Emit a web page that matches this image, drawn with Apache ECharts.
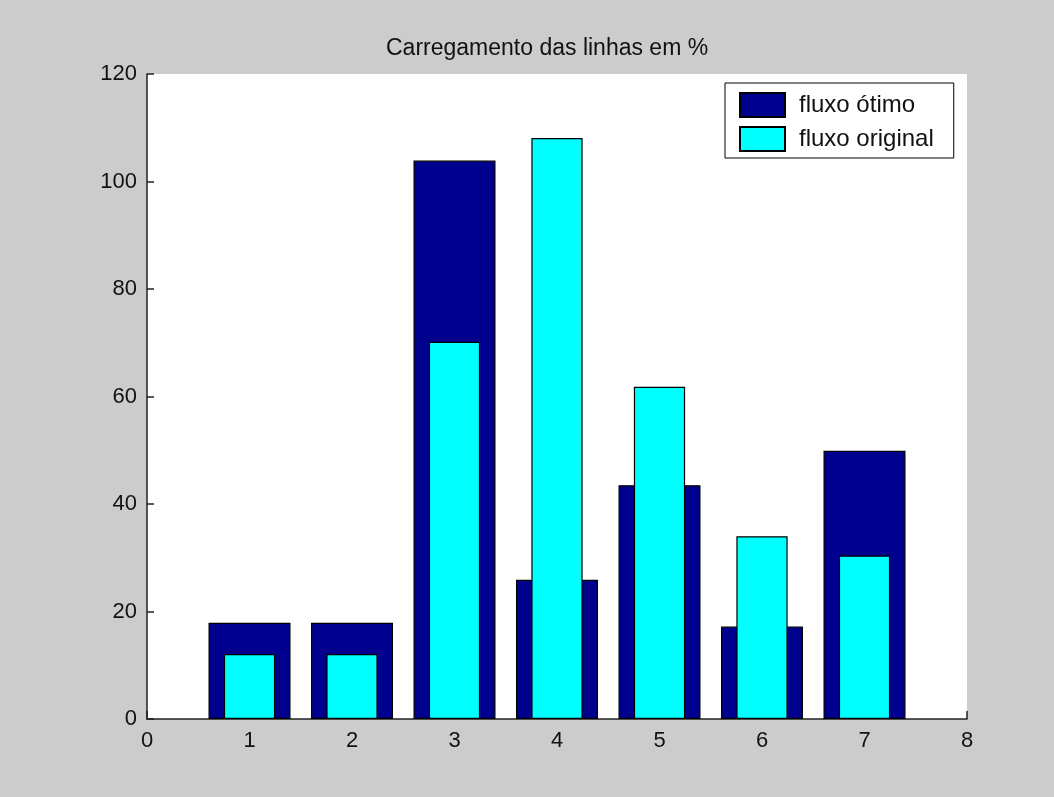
<!DOCTYPE html>
<html>
<head>
<meta charset="utf-8">
<script src="https://cdn.jsdelivr.net/npm/echarts@6/dist/echarts.min.js"></script>
<style>
html,body{margin:0;padding:0;background:#cccccc;}
#c{width:1054px;height:797px;}
</style>
</head>
<body>
<div id="c"></div>
<script>
const xLabels = ['0','1','2','3','4','5','6','7','8'];
const seriesNames = ['fluxo ótimo','fluxo original'];
const fluxoOtimo = [null, 17.9, 17.9, 103.9, 25.9, 43.5, 17.2, 49.9, null];
const fluxoOriginal = [null, 12.1, 12.1, 70.2, 108.1, 61.8, 34.0, 30.4, null];
const yTicks = [0, 20, 40, 60, 80, 100, 120];
const titleText = 'Carregamento das linhas em %';

const FONT = 'Liberation Sans';
const chart = echarts.init(document.getElementById('c'), null, {renderer:'canvas'});
const axisCommon = {
  type: 'category',
  data: xLabels,
  boundaryGap: false,
};
chart.setOption({
  backgroundColor: '#cccccc',
  animation: false,
  title: {
    text: titleText,
    left: 381,
    top: 32,
    textStyle: {fontFamily: FONT, fontSize: 23, fontWeight: 'normal', color: '#111'}
  },
  legend: {
    left: 725,
    top: 83,
    orient: 'vertical',
    backgroundColor: '#ffffff',
    borderColor: '#000',
    borderWidth: 1,
    padding: [9, 20, 6, 14],
    itemWidth: 45,
    itemHeight: 24,
    itemGap: 8,
    icon: 'rect',
    textStyle: {fontFamily: FONT, fontSize: 24, color: '#111', padding: [0,0,0,9]},
    data: seriesNames
  },
  grid: {
    left: 147, top: 74, right: 87, bottom: 78,
    show: true, backgroundColor: '#ffffff', borderWidth: 0
  },
  xAxis: [
    Object.assign({}, axisCommon, {
      axisLine: {show: true, lineStyle: {color: '#222', width: 1.5}},
      axisTick: {show: true, inside: true, length: 8, alignWithLabel: true, lineStyle: {color: '#222', width: 1.5}},
      axisLabel: {margin: 11, fontFamily: FONT, fontSize: 22, color: '#111', interval: 0},
      splitLine: {show: false}
    }),
    Object.assign({}, axisCommon, {show: false})
  ],
  yAxis: {
    type: 'value',
    min: yTicks[0],
    max: yTicks[yTicks.length - 1],
    interval: 20,
    axisLine: {show: true, lineStyle: {color: '#222', width: 1.5}},
    axisTick: {show: true, inside: true, length: 7, lineStyle: {color: '#222', width: 1.5}},
    axisLabel: {margin: 10, fontFamily: FONT, fontSize: 22, color: '#111'},
    splitLine: {show: false}
  },
  series: [
    {
      name: seriesNames[0],
      type: 'bar',
      xAxisIndex: 0,
      data: fluxoOtimo,
      barWidth: '80%',
      itemStyle: {color: '#00008f', borderColor: '#000', borderWidth: 1.2}
    },
    {
      name: seriesNames[1],
      type: 'bar',
      xAxisIndex: 1,
      data: fluxoOriginal,
      barWidth: '50%',
      itemStyle: {color: '#00ffff', borderColor: '#000', borderWidth: 1.2}
    }
  ]
});
</script>
</body>
</html>
